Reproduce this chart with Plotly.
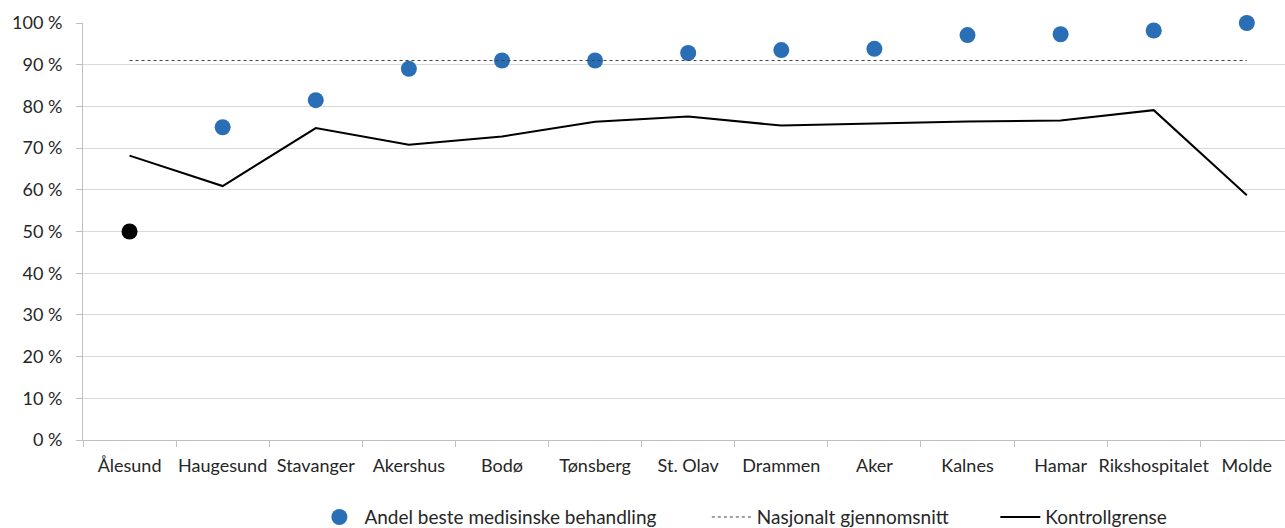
import plotly.graph_objects as go

# Sykehus (categories along the x axis)
hospitals = ["Ålesund", "Haugesund", "Stavanger", "Akershus", "Bodø", "Tønsberg",
             "St. Olav", "Drammen", "Aker", "Kalnes", "Hamar", "Rikshospitalet", "Molde"]

# Andel pasienter med beste medisinske behandling (%)
share_best = [50, 75, 81.5, 89, 91, 91, 92.8, 93.5, 93.8, 97.1, 97.3, 98.2, 100]

# Nasjonalt gjennomsnitt (%)
national_avg = [91] * len(hospitals)

# Nedre kontrollgrense (%)
control_limit = [68.2, 60.9, 74.8, 70.8, 72.8, 76.3, 77.6, 75.4, 75.9, 76.4, 76.6, 79.1, 58.7]

# Sykehus under kontrollgrensen vises i svart
below = [v < c for v, c in zip(share_best, control_limit)]

y_ticks = [0, 10, 20, 30, 40, 50, 60, 70, 80, 90, 100]
y_labels = [f"{t} %" for t in y_ticks]

BLUE = "#2A6FB6"
FONT = "Lato, Open Sans, sans-serif"

fig = go.Figure()

fig.add_trace(go.Scatter(
    x=[h for h, b in zip(hospitals, below) if not b],
    y=[v for v, b in zip(share_best, below) if not b],
    mode="markers",
    name="Andel beste medisinske behandling",
    marker=dict(size=16, color=BLUE),
    cliponaxis=False,
    legend="legend",
))
fig.add_trace(go.Scatter(
    x=[h for h, b in zip(hospitals, below) if b],
    y=[v for v, b in zip(share_best, below) if b],
    mode="markers",
    name="Under kontrollgrense",
    marker=dict(size=16, color="black"),
    showlegend=False,
    cliponaxis=False,
))
fig.add_trace(go.Scatter(
    x=hospitals, y=national_avg, mode="lines",
    name="Nasjonalt gjennomsnitt",
    line=dict(color="#404040", width=1, dash="dot"),
    legend="legend2",
))
fig.add_trace(go.Scatter(
    x=hospitals, y=control_limit, mode="lines",
    name="Kontrollgrense",
    line=dict(color="black", width=2),
    legend="legend3",
))

legend_style = dict(orientation="h", y=-0.185, yanchor="middle", xanchor="left",
                    font=dict(size=19), itemwidth=40, bgcolor="rgba(0,0,0,0)")

fig.update_layout(
    width=1285, height=528,
    margin=dict(l=83, r=0, t=23, b=88, autoexpand=False),
    paper_bgcolor="white", plot_bgcolor="white",
    font=dict(family=FONT, size=18, color="#262626"),
    showlegend=True,
    legend=dict(x=0.1925, **legend_style),
    legend2=dict(x=0.519, **legend_style),
    legend3=dict(x=0.759, **legend_style),
    xaxis=dict(
        type="category", categoryorder="array", categoryarray=hospitals,
        range=[-0.5, 12.41], tickangle=0, automargin=False,
        showgrid=False, showline=True, linecolor="#bfbfbf", linewidth=1,
        ticks="outside", tickson="boundaries", ticklen=6, tickcolor="#bfbfbf",
        ticklabelstandoff=9, zeroline=False,
    ),
    yaxis=dict(
        range=[0, 100], tickmode="array", tickvals=y_ticks, ticktext=y_labels,
        automargin=False,
        showgrid=True, gridcolor="#d9d9d9", gridwidth=1,
        showline=True, linecolor="#bfbfbf", linewidth=1,
        ticks="outside", ticklen=6, tickcolor="#bfbfbf",
        ticklabelstandoff=10, zeroline=False,
    ),
)

fig.write_html("out.html")
